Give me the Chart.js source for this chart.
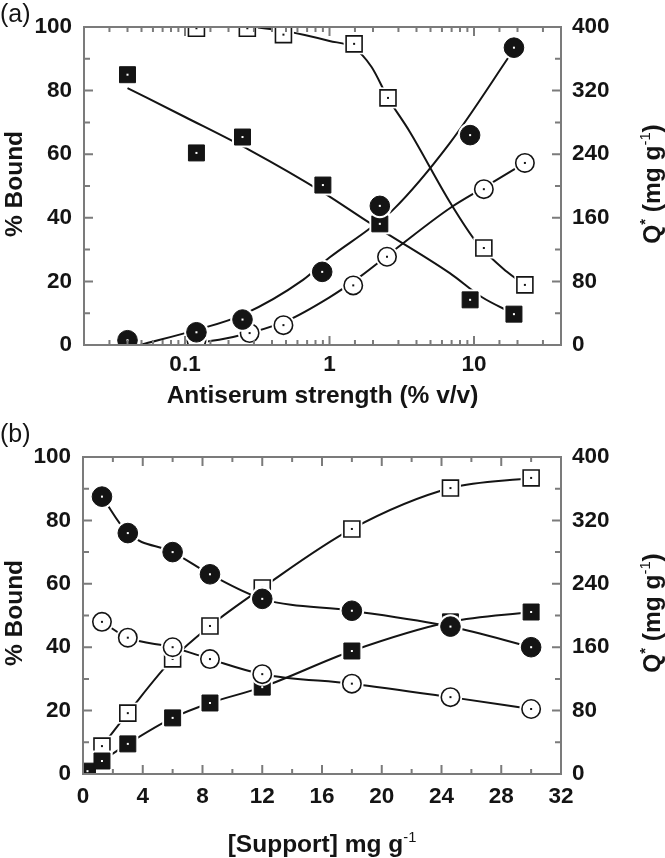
<!DOCTYPE html>
<html lang="en">
<head>
<meta charset="UTF-8">
<title>% Bound and Q* - antiserum strength / support</title>
<script src="https://cdn.jsdelivr.net/npm/chart.js"></script>
<style>
  body { margin: 0; background: #fff; }
  canvas { position: absolute; left: 0; }
</style>
</head>
<body>
<canvas id="chartA" width="665" height="415" style="top:0"></canvas>
<canvas id="chartB" width="665" height="443" style="top:415px"></canvas>
<script>
// ---- panel (a): antiserum strength (% v/v), log axis ----
const aSqFilledX = [0.04, 0.12, 0.25, 0.90, 2.23, 9.4, 18.9];
const aSqFilledY = [85.0, 60.4, 65.4, 50.3, 38.1, 14.2, 9.7];
const aSqOpenX = [0.12, 0.27, 0.48, 1.48, 2.54, 11.7, 22.5];
const aSqOpenY = [99.6, 99.6, 97.6, 94.7, 77.7, 30.5, 18.9];
const aCiFilledX = [0.04, 0.12, 0.25, 0.89, 2.23, 9.4, 18.9];
const aCiFilledQ = [6, 16, 32, 92, 175, 264, 374];
const aCiOpenX = [0.12, 0.28, 0.48, 1.46, 2.5, 11.7, 22.5];
const aCiOpenQ = [6, 15, 25, 75, 111, 196, 229];

// fitted curves in (a)
const aFitSqFilledX = [0.04, 0.1, 0.28, 0.9, 1.85, 6.8, 11.3, 18.9];
const aFitSqFilledY = [80.8, 71.7, 61.3, 48.0, 38.7, 22.6, 15.1, 9.8];
const aFitSqOpenX = [0.3, 0.48, 1.0, 1.48, 1.95, 2.54, 3.6, 6.8, 10.5, 16.9, 22.5];
const aFitSqOpenY = [100, 98.8, 95.6, 93.4, 87.5, 77.7, 67.0, 45.0, 32.1, 23.0, 18.9];
const aFitCiFilledX = [0.049, 0.12, 0.25, 0.656, 1.0, 1.85, 2.75, 6.8, 18.9];
const aFitCiFilledQ = [0, 19, 38, 82, 110, 145, 170, 254, 372];
const aFitCiOpenX = [0.097, 0.215, 0.5, 1.0, 1.63, 2.93, 6.8, 11.7, 22.5];
const aFitCiOpenQ = [0, 10, 30, 60, 86, 122, 172, 198, 229];

// ---- panel (b): [Support] mg g-1 ----
const bX = [1.27, 3.0, 6.0, 8.5, 12.0, 18.0, 24.6, 30.0];
const bSqOpenY = [8.8, 19.2, 36.3, 46.7, 58.7, 77.3, 90.2, 93.4];
const bSqFilledX = [0.3, 1.27, 3.0, 6.0, 8.5, 12.0, 18.0, 24.6, 30.0];
const bSqFilledY = [0.9, 4.1, 9.5, 17.7, 22.4, 27.4, 38.8, 48.0, 51.1];
const bCiFilledQ = [350, 304, 280, 252, 221, 206, 186, 160];
const bCiOpenQ = [192, 172, 160, 145, 126, 114, 97, 82];

const FONT = "'Liberation Sans', Arial, Helvetica, sans-serif";
const INK = '#141414';
const AXIS = '#7b7b7b';

const pts = (xs, ys) => xs.map((x, i) => ({ x, y: ys[i] }));

const MARK = {
  sqFilled: { style: 'rect', r: 11.3, fill: INK, stroke: INK, bw: 1, dot: '#fff' },
  sqOpen: { style: 'rect', r: 11.3, fill: '#fff', stroke: INK, bw: 1.6, dot: INK },
  ciFilled: { style: 'circle', r: 9.8, fill: INK, stroke: INK, bw: 1, dot: '#fff' },
  ciOpen: { style: 'circle', r: 9.2, fill: '#fff', stroke: INK, bw: 1.6, dot: INK }
};

function markerSet(data, kind, yAxisID) {
  const m = MARK[kind];
  return {
    data, yAxisID, showLine: false, order: 1, clip: 0,
    pointStyle: m.style, pointRadius: m.r, pointHoverRadius: m.r,
    pointBackgroundColor: m.fill, pointBorderColor: m.stroke, pointBorderWidth: m.bw,
    halo: true, dot: m.dot
  };
}

function curveSet(data, yAxisID) {
  return {
    data, yAxisID, showLine: true, order: 2, pointRadius: 0, pointHoverRadius: 0,
    borderColor: INK, borderWidth: 2, fill: false,
    cubicInterpolationMode: 'monotone', tension: 0.4
  };
}

function clipArea(ctx, a) {
  ctx.beginPath();
  ctx.rect(a.left, a.top, a.right - a.left, a.bottom - a.top);
  ctx.clip();
}

// white ring round every marker, so lines break near symbols
const haloPlugin = {
  id: 'halo',
  beforeDatasetDraw(chart, args) {
    const ds = chart.data.datasets[args.index];
    if (!ds.halo) return;
    const ctx = chart.ctx;
    ctx.save();
    clipArea(ctx, chart.chartArea);
    ctx.fillStyle = '#fff';
    args.meta.data.forEach(p => {
      ctx.beginPath();
      if (ds.pointStyle === 'rect') {
        const h = ds.pointRadius * Math.SQRT1_2 + 2.5;
        ctx.rect(p.x - h, p.y - h, 2 * h, 2 * h);
      } else {
        ctx.arc(p.x, p.y, ds.pointRadius + 2.5, 0, Math.PI * 2);
      }
      ctx.fill();
    });
    ctx.restore();
  },
  afterDatasetDraw(chart, args) {
    const ds = chart.data.datasets[args.index];
    if (!ds.dot) return;
    const ctx = chart.ctx;
    ctx.save();
    clipArea(ctx, chart.chartArea);
    ctx.fillStyle = ds.dot;
    args.meta.data.forEach(p => ctx.fillRect(p.x - 1, p.y - 1, 2, 2));
    ctx.restore();
  }
};

// box and inward ticks (long where the tick has a label)
const framePlugin = {
  id: 'frame',
  afterDatasetsDraw(chart) {
    const { ctx, chartArea: a, scales } = chart;
    ctx.save();
    ctx.strokeStyle = AXIS;
    ctx.lineWidth = 2;
    ctx.strokeRect(a.left, a.top, a.right - a.left, a.bottom - a.top);
    ctx.beginPath();
    scales.x.ticks.forEach(t => {
      const px = scales.x.getPixelForValue(t.value);
      if (px < a.left + 1 || px > a.right - 1) return;
      const len = t.label !== '' ? 9 : 5;
      ctx.moveTo(px, a.bottom); ctx.lineTo(px, a.bottom - len);
      ctx.moveTo(px, a.top); ctx.lineTo(px, a.top + len);
    });
    scales.y.ticks.forEach(t => {
      const py = scales.y.getPixelForValue(t.value);
      if (py < a.top + 1 || py > a.bottom - 1) return;
      ctx.moveTo(a.left, py); ctx.lineTo(a.left + (t.label !== '' ? 9 : 6), py);
    });
    scales.y1.ticks.forEach(t => {
      const py = scales.y1.getPixelForValue(t.value);
      if (py < a.top + 1 || py > a.bottom - 1) return;
      ctx.moveTo(a.right, py); ctx.lineTo(a.right - (t.label !== '' ? 9 : 6), py);
    });
    ctx.stroke();
    ctx.restore();
  }
};

function drawRich(ctx, pieces, x, y, angle, size) {
  ctx.save();
  ctx.translate(x, y);
  ctx.rotate(angle);
  const parts = pieces.map(p => {
    const s = p.sup ? size * 0.6 : size;
    ctx.font = (p.light ? 'normal ' : 'bold ') + s + 'px ' + FONT;
    return { t: p.t, font: ctx.font, w: ctx.measureText(p.t).width, dy: p.sup ? -size * 0.42 : 0 };
  });
  const total = parts.reduce((s, p) => s + p.w, 0);
  let cx = -total / 2;
  ctx.fillStyle = INK;
  ctx.textAlign = 'left';
  ctx.textBaseline = 'alphabetic';
  parts.forEach(p => { ctx.font = p.font; ctx.fillText(p.t, cx, p.dy); cx += p.w; });
  ctx.restore();
}

const PANEL = {
  chartA: { tag: '(a)', tagY: 22, midY: 184, bottomY: 403,
            bottom: [{ t: 'Antiserum strength (% v/v)' }] },
  chartB: { tag: '(b)', tagY: 27, midY: 198, bottomY: 437,
            bottom: [{ t: '[Support] mg g' }, { t: '-1', sup: true, light: true }] }
};
const leftTitle = [{ t: '% Bound' }];
const rightTitle = [{ t: 'Q' }, { t: '*', sup: true }, { t: ' (mg g' }, { t: '-1', sup: true, light: true }, { t: ')' }];

const titlePlugin = {
  id: 'titles',
  afterDraw(chart) {
    const P = PANEL[chart.canvas.id];
    const { ctx, chartArea: a } = chart;
    const size = 24.5;
    drawRich(ctx, leftTitle, 22, P.midY, -Math.PI / 2, size);
    drawRich(ctx, rightTitle, 660, P.midY, -Math.PI / 2, size);
    drawRich(ctx, P.bottom, (a.left + a.right) / 2, P.bottomY, 0, size);
    ctx.save();
    ctx.font = 'normal 25px ' + FONT;
    ctx.fillStyle = INK;
    ctx.textBaseline = 'alphabetic';
    ctx.fillText(P.tag, 0, P.tagY);
    ctx.restore();
  }
};

Chart.defaults.font.family = FONT;
Chart.defaults.color = INK;

const tickFont = { family: FONT, size: 22.5, weight: 'bold' };
const isPow10 = v => Math.abs(Math.log10(v) - Math.round(Math.log10(v))) < 1e-6;

function yScales(leftWidth) {
  return {
    y: {
      position: 'left', min: 0, max: 100,
      grid: { display: false, drawTicks: false }, border: { display: false },
      ticks: { stepSize: 10, autoSkip: false, padding: 12, font: tickFont, color: INK,
               callback: v => (v % 20 === 0 ? String(v) : '') },
      afterFit: s => { s.width = leftWidth; }
    },
    y1: {
      position: 'right', min: 0, max: 400,
      grid: { display: false, drawTicks: false }, border: { display: false },
      ticks: { stepSize: 40, autoSkip: false, padding: 11, font: tickFont, color: INK,
               callback: v => (v % 80 === 0 ? String(v) : '') },
      afterFit: s => { s.width = 104; }
    }
  };
}

const baseOptions = (top, scales) => ({
  responsive: false,
  animation: false,
  events: [],
  layout: { padding: { top, left: 0, right: 0, bottom: 0 } },
  plugins: { legend: { display: false }, tooltip: { enabled: false } },
  scales
});

new Chart(document.getElementById('chartA'), {
  type: 'scatter',
  data: {
    datasets: [
      markerSet(pts(aCiFilledX, aCiFilledQ), 'ciFilled', 'y1'),
      markerSet(pts(aCiOpenX, aCiOpenQ), 'ciOpen', 'y1'),
      markerSet(pts(aSqFilledX, aSqFilledY), 'sqFilled', 'y'),
      markerSet(pts(aSqOpenX, aSqOpenY), 'sqOpen', 'y'),
      curveSet(pts(aFitSqFilledX, aFitSqFilledY), 'y'),
      curveSet(pts(aFitSqOpenX, aFitSqOpenY), 'y'),
      curveSet(pts(aFitCiFilledX, aFitCiFilledQ), 'y1'),
      curveSet(pts(aFitCiOpenX, aFitCiOpenQ), 'y1')
    ]
  },
  options: baseOptions(27, Object.assign({
    x: {
      type: 'logarithmic', position: 'bottom', min: 0.02, max: 40,
      grid: { display: false, drawTicks: false }, border: { display: false },
      ticks: { autoSkip: false, maxRotation: 0, minRotation: 0, padding: 6, font: tickFont, color: INK,
               callback: v => (isPow10(v) ? (v < 1 ? String(+v.toFixed(3)) : String(Math.round(v))) : '') },
      afterFit: s => { s.height = 70; }
    }
  }, yScales(84))),
  plugins: [haloPlugin, framePlugin, titlePlugin]
});

new Chart(document.getElementById('chartB'), {
  type: 'scatter',
  data: {
    datasets: [
      markerSet(pts(bX, bCiFilledQ), 'ciFilled', 'y1'),
      markerSet(pts(bX, bCiOpenQ), 'ciOpen', 'y1'),
      markerSet(pts(bSqFilledX, bSqFilledY), 'sqFilled', 'y'),
      markerSet(pts(bX, bSqOpenY), 'sqOpen', 'y'),
      curveSet(pts(bSqFilledX, bSqFilledY), 'y'),
      curveSet(pts(bX, bSqOpenY), 'y'),
      curveSet(pts(bX, bCiFilledQ), 'y1'),
      curveSet(pts(bX, bCiOpenQ), 'y1')
    ]
  },
  options: baseOptions(42, Object.assign({
    x: {
      type: 'linear', position: 'bottom', min: 0, max: 32,
      grid: { display: false, drawTicks: false }, border: { display: false },
      ticks: { stepSize: 2, autoSkip: false, maxRotation: 0, minRotation: 0, padding: 9, font: tickFont, color: INK,
               callback: v => (v % 4 === 0 ? String(v) : '') },
      afterFit: s => { s.height = 84; }
    }
  }, yScales(83))),
  plugins: [haloPlugin, framePlugin, titlePlugin]
});
</script>
</body>
</html>
